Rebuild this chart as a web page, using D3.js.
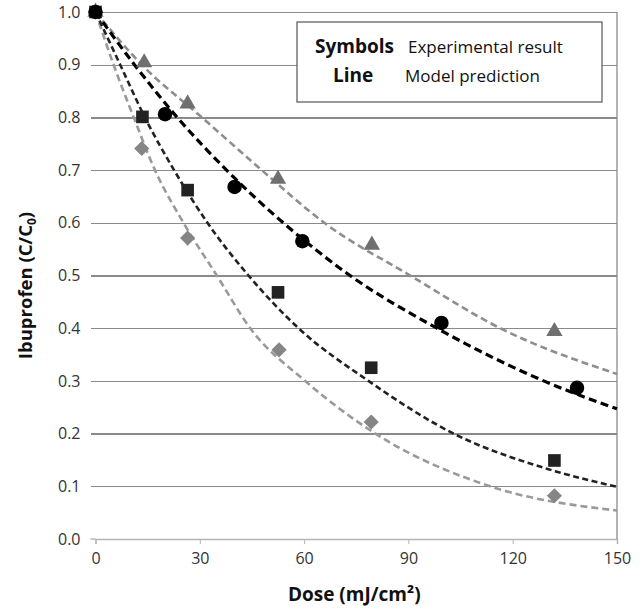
<!DOCTYPE html>
<meta charset="utf-8">
<head>
    <title>Ibuprofen removal vs UV dose</title>
</head>
<style>
    body { margin: 0; background: #fff; }
    .grid line { stroke: #8a8a8a; stroke-width: 1.3px; shape-rendering: crispEdges; }
    .grid path { stroke-width: 0; }
    .tick text { font-family: "Open Sans", sans-serif; fill: #333; }
    .model { fill: none; }
</style>
<script src="https://d3js.org/d3.v7.min.js"></script>
<div id="chart"></div>
<script>

    // ---- data ----
    var yTicks = [0, 0.1, 0.2, 0.3, 0.4, 0.5, 0.6, 0.7, 0.8, 0.9, 1.0];
    var xTicks = [0, 30, 60, 90, 120, 150];

    // experimental points (dose, C/C0)
    var circleDose = [0, 20, 40, 59.5, 99.5, 138.5];
    var circleVal  = [1.0, 0.806, 0.668, 0.565, 0.41, 0.287];
    var triDose    = [0, 14, 26.5, 52.5, 79.5, 132];
    var triVal     = [1.0, 0.904, 0.826, 0.683, 0.558, 0.394];
    var squareDose = [0, 13.5, 26.5, 52.5, 79.3, 132];
    var squareVal  = [1.0, 0.801, 0.662, 0.468, 0.325, 0.149];
    var diamondDose = [0, 13.3, 26.5, 52.8, 79.3, 132];
    var diamondVal  = [1.0, 0.741, 0.571, 0.359, 0.222, 0.082];

    // model curves (dose, C/C0)
    var triModel = [[0,1],[13.3,0.9],[30.6,0.8],[47.8,0.7],[65.8,0.6],[90.5,0.5],[116.4,0.4],[150,0.313]];
    var circleModel = [[0,1],[11.2,0.9],[23.5,0.8],[37.7,0.7],[54,0.6],[73.2,0.5],[98.2,0.4],[128.9,0.3],[150,0.247]];
    var squareModel = [[0,1],[7.1,0.9],[14.2,0.8],[22.6,0.7],[32.2,0.6],[44,0.5],[58.4,0.4],[78.5,0.3],[103,0.2],[130,0.133],[150,0.099]];
    var diamondModel = [[0,1],[5.2,0.9],[11,0.8],[17.1,0.7],[25.3,0.6],[34.9,0.5],[44.5,0.4],[60.3,0.3],[80.5,0.2],[113.5,0.1],[150,0.054]];

    // ---- layout ----
    var margin = { top: 12, right: 23, bottom: 70, left: 95.5 },
        width = 640 - margin.left - margin.right,
        height = 609 - margin.top - margin.bottom;

    var svg = d3.select("#chart")
        .append("svg")
        .attr("width", 640)
        .attr("height", 609)
        .append("g")
        .attr("transform", "translate(" + margin.left + "," + margin.top + ")");

    var x = d3.scaleLinear().domain([0, 150]).range([0, width]);
    var y = d3.scaleLinear().domain([0, 1]).range([height, 0]);

    // horizontal gridlines with small tick stubs on the left
    svg.append("g")
        .attr("class", "grid")
        .attr("transform", "translate(-5,0)")
        .call(d3.axisLeft(y)
            .tickValues(yTicks.slice(1))
            .tickSize(-(width + 5))
            .tickFormat(""));

    // y tick labels
    svg.append("g")
        .selectAll("text")
        .data(yTicks)
        .enter().append("text")
        .attr("x", -15)
        .attr("y", function (d) { return y(d); })
        .attr("dy", "0.35em")
        .attr("text-anchor", "end")
        .attr("font-family", "Open Sans, sans-serif")
        .attr("font-size", "16px")
        .attr("fill", "#333")
        .text(function (d) { return d.toFixed(1); });

    // bottom axis (lighter)
    var xAxis = svg.append("g")
        .attr("transform", "translate(0," + height + ")")
        .call(d3.axisBottom(x).tickValues(xTicks).tickSize(5).tickPadding(9));
    xAxis.select(".domain").attr("stroke", "#b5b5b5").attr("stroke-width", 1.5);
    xAxis.selectAll(".tick line").attr("stroke", "#b5b5b5");
    xAxis.selectAll(".tick text").attr("font-size", "16px").attr("fill", "#333");
    // y=0 stub on the left, light like the baseline
    svg.append("line")
        .attr("x1", -5).attr("x2", 0)
        .attr("y1", y(0)).attr("y2", y(0))
        .attr("stroke", "#b5b5b5").attr("stroke-width", 1.5);

    // right border of plot area
    svg.append("line")
        .attr("x1", x(150)).attr("x2", x(150))
        .attr("y1", y(1)).attr("y2", y(0))
        .attr("stroke", "#8a8a8a")
        .attr("stroke-width", 1.3);

    // axis titles
    svg.append("text")
        .attr("x", x(75) - 2)
        .attr("y", height + 62)
        .attr("text-anchor", "middle")
        .attr("font-family", "Open Sans, sans-serif")
        .attr("font-weight", "bold")
        .attr("font-size", "19px")
        .attr("fill", "#111")
        .text("Dose (mJ/cm\u00B2)");

    var yTitle = svg.append("text")
        .attr("transform", "translate(" + (-64) + "," + (y(0.5) + 10) + ") rotate(-90)")
        .attr("text-anchor", "middle")
        .attr("font-family", "Open Sans, sans-serif")
        .attr("font-weight", "bold")
        .attr("font-size", "18.5px")
        .attr("fill", "#111");
    yTitle.append("tspan").text("Ibuprofen (C/C");
    yTitle.append("tspan").attr("font-size", "12px").attr("dy", "4").text("0");
    yTitle.append("tspan").attr("dy", "-4").text(")");

    // legend box
    var legend = svg.append("g")
        .attr("transform", "translate(" + (297 - margin.left) + "," + (22 - margin.top) + ")");
    legend.append("rect")
        .attr("width", 305)
        .attr("height", 80)
        .attr("fill", "#fff")
        .attr("stroke", "#555")
        .attr("stroke-width", 1.2);
    var legendRows = [["Symbols", "Experimental result", 31], ["Line", "Model prediction", 60]];
    legendRows.forEach(function (r, i) {
        legend.append("text")
            .attr("x", i == 0 ? 18 : 36)
            .attr("y", r[2])
            .attr("font-family", "Open Sans, sans-serif")
            .attr("font-weight", "bold")
            .attr("font-size", "19px")
            .attr("fill", "#111")
            .text(r[0]);
        legend.append("text")
            .attr("x", i == 0 ? 111 : 108)
            .attr("y", r[2])
            .attr("font-family", "Open Sans, sans-serif")
            .attr("font-size", "17px")
            .attr("fill", "#111")
            .text(r[1]);
    });

    // model lines
    var line = d3.line()
        .x(function (d) { return x(d[0]); })
        .y(function (d) { return y(d[1]); })
        .curve(d3.curveMonotoneX);

    var models = [
        { data: triModel, color: "#8e8e8e", w: 2.6, dash: "7,4" },
        { data: diamondModel, color: "#9a9a9a", w: 2.6, dash: "7,4" },
        { data: squareModel, color: "#222", w: 2.6, dash: "6,3.5" },
        { data: circleModel, color: "#000", w: 3.2, dash: "8,4.5" }
    ];
    svg.selectAll(".model")
        .data(models)
        .enter().append("path")
        .attr("class", "model")
        .attr("d", function (d) { return line(d.data); })
        .attr("stroke", function (d) { return d.color; })
        .attr("stroke-width", function (d) { return d.w; })
        .attr("stroke-dasharray", function (d) { return d.dash; });

    // experimental markers
    function addSymbols(dose, vals, type, size, color, rot) {
        svg.append("g")
            .selectAll("path")
            .data(dose.map(function (d, i) { return [d, vals[i]]; }))
            .enter().append("path")
            .attr("d", d3.symbol().type(type).size(size))
            .attr("transform", function (d) {
                return "translate(" + x(d[0]) + "," + y(d[1]) + ") rotate(" + rot + ")";
            })
            .attr("fill", color);
    }
    addSymbols(triDose, triVal, d3.symbolTriangle, 115, "#6f6f6f", 0);
    addSymbols(diamondDose, diamondVal, d3.symbolSquare, 115, "#858585", 45);
    addSymbols(squareDose, squareVal, d3.symbolSquare, 160, "#222", 0);
    addSymbols(circleDose, circleVal, d3.symbolCircle, 165, "#000", 0);

</script>
